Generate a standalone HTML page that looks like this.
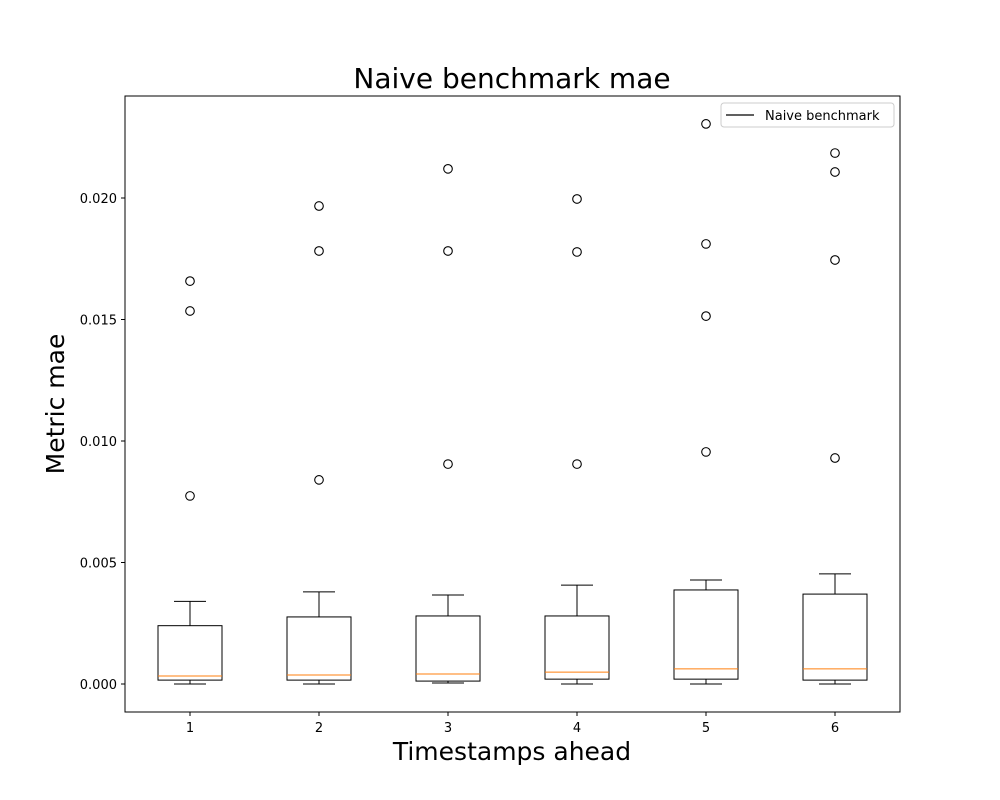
<!DOCTYPE html>
<html><head><meta charset="utf-8"><style>body{margin:0;background:#fff}svg{display:block;font-family:"DejaVu Sans","Liberation Sans",sans-serif}</style></head>
<body>
<svg id="chart" width="1000" height="800">
<rect x="0" y="0" width="1000" height="800" fill="#fff"/>
<text x="512" y="88" text-anchor="middle" font-size="28">Naive benchmark mae</text>
<text x="512" y="760" text-anchor="middle" font-size="25">Timestamps ahead</text>
<text transform="translate(64,404) rotate(-90)" text-anchor="middle" font-size="25">Metric mae</text>
<g id="plot"></g>
<rect x="125" y="96" width="775" height="616" fill="none" stroke="#000" stroke-width="1"/>
<g>
<rect x="721" y="103" width="173" height="24" rx="3" fill="#fff" stroke="#ccc"/>
<line x1="726" y1="115" x2="754" y2="115" stroke="#000" stroke-width="1.3"/>
<text x="765" y="120" font-size="13">Naive benchmark</text>
</g>
</svg>
<script>
const categories = [1,2,3,4,5,6];
const whiskerLow = [0.0, 0.0, 0.00004, 0.0, 0.0, 0.0];
const q1 = [0.00016, 0.00016, 0.00012, 0.0002, 0.0002, 0.00016];
const medians = [0.00033, 0.00037, 0.00041, 0.00049, 0.00062, 0.00062];
const q3 = [0.0024, 0.00276, 0.0028, 0.0028, 0.00387, 0.0037];
const whiskerHigh = [0.0034, 0.00379, 0.00366, 0.00407, 0.00428, 0.00453];
const outliers = [[0.01658,0.01535,0.00774],[0.01967,0.01782,0.0084],[0.0212,0.01782,0.00905],[0.01996,0.01778,0.00905],[0.02305,0.01811,0.01514,0.00955],[0.02185,0.02107,0.01745,0.0093]];
const yTicks = [0,0.005,0.01,0.015,0.02];
const yTickLabels = ["0.000","0.005","0.010","0.015","0.020"];

const NS="http://www.w3.org/2000/svg";
const g=document.getElementById('plot');
const xs=c=>190+(c-1)*129;
const ys=v=>684-v*24300;
function mk(t,a){const e=document.createElementNS(NS,t);for(const k in a)e.setAttribute(k,a[k]);g.appendChild(e);return e;}
yTicks.forEach((v,i)=>{
  const y=ys(v);
  const t=mk('line',{x1:121,y1:y,x2:125,y2:y,stroke:'#000'});
  
  
  const l=mk('text',{x:117,y:y+5,'text-anchor':'end','font-size':13});
  l.textContent=yTickLabels[i];
  
  
});
categories.forEach((c,i)=>{
  const x=xs(c);
  const t=mk('line',{x1:x,y1:712,x2:x,y2:716,stroke:'#000'});
  
  
  const l=mk('text',{x:x,y:732,'text-anchor':'middle','font-size':13});
  l.textContent=String(c);
  
  
  const w1=mk('line',{x1:x,y1:ys(whiskerLow[i]),x2:x,y2:ys(q1[i]),stroke:'#000'});
  
  
  const w2=mk('line',{x1:x,y1:ys(q3[i]),x2:x,y2:ys(whiskerHigh[i]),stroke:'#000'});
  
  
  const c1=mk('line',{x1:x-16,y1:ys(whiskerLow[i]),x2:x+16,y2:ys(whiskerLow[i]),stroke:'#000'});
  
  
  const c2=mk('line',{x1:x-16,y1:ys(whiskerHigh[i]),x2:x+16,y2:ys(whiskerHigh[i]),stroke:'#000'});
  
  
  const b=mk('rect',{x:x-32,y:ys(q3[i]),width:64,height:ys(q1[i])-ys(q3[i]),fill:'none',stroke:'#000'});
  
  
  const m=mk('line',{x1:x-32,y1:ys(medians[i]),x2:x+32,y2:ys(medians[i]),stroke:'#ff7f0e'});
  
  
  outliers[i].forEach(v=>{
    const o=mk('circle',{cx:x,cy:ys(v),r:4.3,fill:'none',stroke:'#000','stroke-width':1.1});
    
    
  });
});
</script>
</body></html>
